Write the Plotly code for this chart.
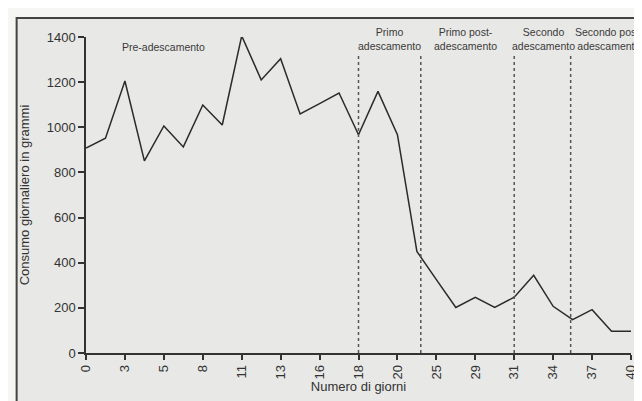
import plotly.graph_objects as go

# Daily consumption (grams) at each observation, evenly spaced along the x axis
consumo = [908, 952, 1205, 851, 1006, 913, 1099, 1010, 1405, 1210,
           1304, 1059, 1105, 1152, 967, 1159, 967, 450, 325, 202,
           247, 202, 247, 344, 207, 148, 192, 96, 96]
punti = list(range(len(consumo)))

# Day labels shown on every other observation
giorni_ticks = ["0", "3", "5", "8", "11", "13", "16", "18", "20",
                "25", "29", "31", "34", "37", "40"]
tick_pos = punti[::2]

# Phase boundaries (in observation units)
confini = [14.0, 17.2, 22.0, 24.9]

# Phase labels and their centre positions
fasi = ["Pre-adescamento", "Primo<br>adescamento", "Primo post-<br>adescamento",
        "Secondo<br>adescamento", "Secondo post-<br>adescamento"]
fasi_x = [4.0, 15.6, 19.5, 23.5, 26.85]
fasi_y = [1356, 1389, 1389, 1389, 1389]

FONT = "Liberation Sans, Arial, Helvetica, sans-serif"
INK = "#2b2b2b"

fig = go.Figure()
fig.add_trace(go.Scatter(
    x=punti, y=consumo, mode="lines",
    line=dict(color=INK, width=1.5),
    hoverinfo="skip", showlegend=False, cliponaxis=False,
))

shapes = [
    dict(type="rect", xref="paper", yref="paper",
         x0=-0.1273, x1=1.04, y0=-0.2, y1=1.0601,
         fillcolor="#e8e8e6", line=dict(color="#444444", width=2), layer="below"),
]
for c in confini:
    shapes.append(dict(type="line", xref="x", yref="y", x0=c, x1=c, y0=0, y1=1316,
                       line=dict(color="#555555", width=1.5, dash="dot"), layer="above"))

annotations = []
for t, xx, yy in zip(fasi, fasi_x, fasi_y):
    annotations.append(dict(x=xx, y=yy, xref="x", yref="y", text=t, showarrow=False,
                            font=dict(family=FONT, size=10.5, color="#3a3a3a"),
                            align="center", xanchor="center", yanchor="middle"))

fig.update_layout(
    width=642, height=401,
    margin=dict(l=78, r=14, t=29, b=56),
    paper_bgcolor="#f6f6f4",
    plot_bgcolor="rgba(0,0,0,0)",
    font=dict(family=FONT, size=13, color="#333333"),
    shapes=shapes,
    annotations=annotations,
    xaxis=dict(
        range=[0, 28], tickmode="array", tickvals=tick_pos, ticktext=giorni_ticks,
        tickangle=-90, ticks="outside", ticklen=5, tickwidth=1.5, tickcolor="#333333",
        showline=True, linecolor="#333333", linewidth=1.5,
        showgrid=False, zeroline=False,
        title=dict(text="Numero di giorni", standoff=3, font=dict(size=13)),
        tickfont=dict(size=13),
    ),
    yaxis=dict(
        range=[0, 1400], tickmode="array", tickvals=[0, 200, 400, 600, 800, 1000, 1200, 1400],
        ticks="outside", ticklen=6, tickwidth=1.5, tickcolor="#333333",
        showline=True, linecolor="#333333", linewidth=1.5,
        showgrid=False, zeroline=False,
        title=dict(text="Consumo giornaliero in grammi", standoff=14, font=dict(size=13)),
        tickfont=dict(size=13),
    ),
)

fig.write_html("out.html")
